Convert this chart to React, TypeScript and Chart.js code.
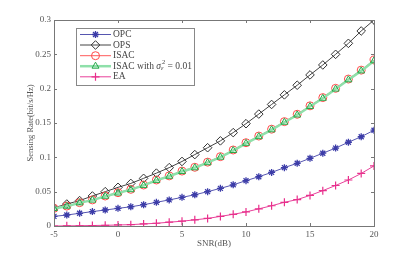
import React, { useEffect, useRef } from "react";
import { Chart, registerables } from "chart.js";
import { drawPoint } from "chart.js/helpers";

Chart.register(...registerables);

const snr = [-5, -4, -3, -2, -1, 0, 1, 2, 3, 4, 5, 6, 7, 8, 9, 10, 11, 12, 13, 14, 15, 16, 17, 18, 19, 20];
const opc = [0.014, 0.016, 0.0185, 0.021, 0.0233, 0.0257, 0.028, 0.031, 0.0345, 0.038, 0.0417, 0.0455, 0.05, 0.0548, 0.06, 0.066, 0.0718, 0.078, 0.085, 0.0913, 0.0986, 0.106, 0.1135, 0.122, 0.13, 0.1395];
const ops = [0.0265, 0.032, 0.037, 0.0437, 0.05, 0.0563, 0.062, 0.0694, 0.077, 0.085, 0.094, 0.104, 0.114, 0.124, 0.136, 0.149, 0.163, 0.177, 0.191, 0.205, 0.22, 0.2345, 0.25, 0.266, 0.284, 0.3];
const isac = [0.0257, 0.029, 0.034, 0.038, 0.0437, 0.0485, 0.0534, 0.0597, 0.067, 0.073, 0.08, 0.0855, 0.093, 0.101, 0.1107, 0.1213, 0.131, 0.141, 0.152, 0.1627, 0.175, 0.187, 0.2005, 0.214, 0.227, 0.2417];
const isacErr = [0.0255, 0.0288, 0.0337, 0.0377, 0.0433, 0.048, 0.0529, 0.0591, 0.0664, 0.0724, 0.0793, 0.0848, 0.0922, 0.1002, 0.1099, 0.1204, 0.1301, 0.1401, 0.1511, 0.1617, 0.174, 0.186, 0.1994, 0.2129, 0.2259, 0.2406];
const ea = [0, 0.0002, 0.0004, 0.0007, 0.001, 0.0015, 0.002, 0.003, 0.004, 0.0055, 0.007, 0.009, 0.011, 0.014, 0.017, 0.0205, 0.025, 0.0295, 0.0345, 0.0385, 0.0445, 0.0515, 0.059, 0.067, 0.0765, 0.0875];
const xTicks = [-5, 0, 5, 10, 15, 20];
const yTicks = [0, 0.05, 0.1, 0.15, 0.2, 0.25, 0.3];
const legendLabels = ["OPC", "OPS", "ISAC", "ISAC with", "EA"];

const FONT = "'Liberation Serif', 'DejaVu Serif', serif";

type Series = {
  label: string;
  data: number[];
  color: string;
  lineColor: string;
  lineWidth: number;
  pointStyle: string;
  radius: number;
  pointBorderWidth: number;
};

const series: Series[] = [
  { label: legendLabels[0], data: opc, color: "#3c3ca8", lineColor: "#5656b0", lineWidth: 1, pointStyle: "star", radius: 3.5, pointBorderWidth: 1.3 },
  { label: legendLabels[1], data: ops, color: "#333333", lineColor: "#444444", lineWidth: 1, pointStyle: "rectRot", radius: 4.3, pointBorderWidth: 1 },
  { label: legendLabels[2], data: isac, color: "#ff4a4a", lineColor: "#ff5a5a", lineWidth: 1, pointStyle: "circle", radius: 4, pointBorderWidth: 1 },
  { label: legendLabels[3], data: isacErr, color: "#27a84a", lineColor: "#8fe0aa", lineWidth: 2.5, pointStyle: "triangle", radius: 4, pointBorderWidth: 1 },
  { label: legendLabels[4], data: ea, color: "#e8308c", lineColor: "#e8409a", lineWidth: 1, pointStyle: "cross", radius: 4, pointBorderWidth: 1.2 },
];

const decorPlugin = {
  id: "decor",
  afterDatasetsDraw(chart: any) {
    const ctx: CanvasRenderingContext2D = chart.ctx;
    const { left, right, top, bottom } = chart.chartArea;
    const xs = chart.scales.x;
    const ys = chart.scales.y;
    ctx.save();
    // box
    ctx.strokeStyle = "#777777";
    ctx.lineWidth = 1;
    ctx.strokeRect(Math.round(left) + 0.5, Math.round(top) + 0.5, Math.round(right - left), Math.round(bottom - top));
    // ticks
    ctx.beginPath();
    const tl = 3;
    xTicks.forEach((v) => {
      const px = Math.round(xs.getPixelForValue(v)) + 0.5;
      ctx.moveTo(px, bottom);
      ctx.lineTo(px, bottom - tl);
      ctx.moveTo(px, top);
      ctx.lineTo(px, top + tl);
    });
    yTicks.forEach((v) => {
      const py = Math.round(ys.getPixelForValue(v)) + 0.5;
      ctx.moveTo(left, py);
      ctx.lineTo(left + tl, py);
      ctx.moveTo(right, py);
      ctx.lineTo(right - tl, py);
    });
    ctx.stroke();

    // titles
    ctx.fillStyle = "#555555";
    ctx.font = `9px ${FONT}`;
    ctx.textAlign = "center";
    ctx.textBaseline = "middle";
    ctx.fillText("SNR(dB)", (left + right) / 2, 244);
    ctx.save();
    ctx.translate(30.5, (top + bottom) / 2);
    ctx.rotate(-Math.PI / 2);
    ctx.font = `8.5px ${FONT}`;
    ctx.fillText("Sensing Rate(bit/s/Hz)", 0, 0);
    ctx.restore();

    // legend
    const bx = 76, by = 28, bw = 118, bh = 57;
    ctx.fillStyle = "#ffffff";
    ctx.fillRect(bx, by, bw, bh);
    ctx.strokeStyle = "#888888";
    ctx.lineWidth = 1;
    ctx.strokeRect(bx + 0.5, by + 0.5, bw, bh);
    const rowY = [34.5, 45, 55.7, 66.2, 76.8];
    series.forEach((s, i) => {
      const y = rowY[i];
      ctx.strokeStyle = s.lineColor;
      ctx.lineWidth = s.lineWidth;
      ctx.beginPath();
      ctx.moveTo(80, y);
      ctx.lineTo(111, y);
      ctx.stroke();
      ctx.strokeStyle = s.color;
      ctx.fillStyle = "rgba(0,0,0,0)";
      ctx.lineWidth = s.pointBorderWidth;
      drawPoint(ctx, { pointStyle: s.pointStyle as any, radius: s.radius, rotation: 0, borderWidth: s.pointBorderWidth }, 95.5, y);
      ctx.fillStyle = "#444444";
      ctx.font = `9.5px ${FONT}`;
      ctx.textAlign = "left";
      ctx.textBaseline = "middle";
      let tx = 113;
      ctx.fillText(s.label, tx, y);
      if (i === 3) {
        tx += ctx.measureText(s.label + " ").width;
        ctx.font = `italic 9.5px ${FONT}`;
        ctx.fillText("σ", tx, y);
        const sw = ctx.measureText("σ").width;
        ctx.font = `italic 6.5px ${FONT}`;
        ctx.fillText("ε", tx + sw, y + 2.5);
        ctx.font = `6.5px ${FONT}`;
        ctx.fillText("2", tx + sw + 1, y - 3.5);
        const ew = Math.max(ctx.measureText("ε").width, ctx.measureText("2").width);
        ctx.font = `9.5px ${FONT}`;
        ctx.fillText(" = 0.01", tx + sw + ew + 1, y);
      }
    });
    ctx.restore();
  },
};

export default function App() {
  const ref = useRef<HTMLCanvasElement>(null);
  useEffect(() => {
    if (!ref.current) return;
    const chart = new Chart(ref.current, {
      type: "line",
      data: {
        labels: snr,
        datasets: series.map((s, i) => ({
          label: s.label,
          data: snr.map((x, j) => ({ x, y: s.data[j] })),
          borderColor: s.lineColor,
          borderWidth: s.lineWidth,
          pointStyle: s.pointStyle as any,
          pointRadius: s.radius,
          pointBorderColor: s.color,
          pointBackgroundColor: "rgba(0,0,0,0)",
          pointBorderWidth: s.pointBorderWidth,
          fill: false,
          tension: 0,
          order: 10 - i,
        })),
      },
      options: {
        responsive: false,
        animation: false,
        layout: { padding: { left: 0, top: 20, right: 41, bottom: 0 } },
        plugins: { legend: { display: false }, tooltip: { enabled: false }, title: { display: false } },
        scales: {
          x: {
            type: "linear",
            min: -5,
            max: 20,
            afterFit: (s: any) => { s.height = 29; },
            afterBuildTicks: (s: any) => { s.ticks = xTicks.map((v) => ({ value: v })); },
            grid: { display: false, drawTicks: false, tickLength: 0 },
            border: { display: false },
            ticks: { color: "#555555", font: { family: FONT, size: 9 }, padding: 3, maxRotation: 0 },
          },
          y: {
            type: "linear",
            min: 0,
            max: 0.3,
            afterFit: (s: any) => { s.width = 54; },
            afterBuildTicks: (s: any) => { s.ticks = yTicks.map((v) => ({ value: v })); },
            grid: { display: false, drawTicks: false, tickLength: 0 },
            border: { display: false },
            ticks: {
              color: "#555555",
              font: { family: FONT, size: 9 },
              padding: 3,
              callback: (v: any) => String(Math.round(Number(v) * 100) / 100),
            },
          },
        },
      },
      plugins: [decorPlugin],
    });
    return () => chart.destroy();
  }, []);
  return (
    <div style={{ position: "absolute", left: 0, top: 0, width: 415, height: 255, background: "#fff" }}>
      <canvas ref={ref} width={415} height={255} style={{ width: 415, height: 255, display: "block" }} />
    </div>
  );
}
